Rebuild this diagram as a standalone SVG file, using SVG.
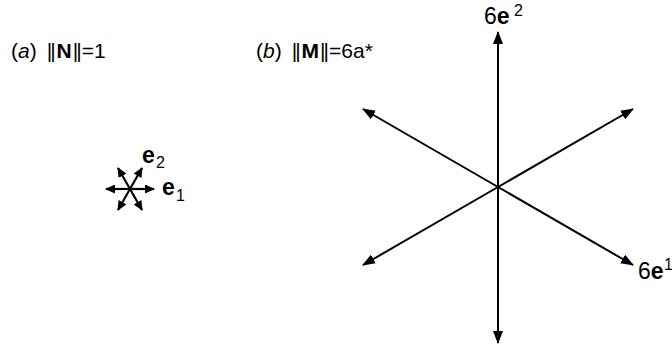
<svg xmlns="http://www.w3.org/2000/svg" width="672" height="351" viewBox="0 0 672 351">
<style>
text{font-family:"Liberation Sans",Arial,sans-serif;fill:#000}
.t{font-size:21px}
.l{font-size:23px}
.s{font-size:16px}
.ax{stroke:#000;stroke-width:2;fill:none}
.axs{stroke:#000;stroke-width:2.2;fill:none}
</style>
<defs>
<marker id="ah" markerWidth="14" markerHeight="10" refX="12" refY="5" orient="auto" markerUnits="userSpaceOnUse">
<path d="M0,0 L13,5 L0,10 Z" fill="#000"/>
</marker>
<marker id="ahs" markerWidth="10" markerHeight="9" refX="9" refY="4.5" orient="auto" markerUnits="userSpaceOnUse">
<path d="M0,0 L10,4.5 L0,9 Z" fill="#000"/>
</marker>
</defs>
<g id="title-a"><text class="t" x="11" y="58">(<tspan font-style="italic">a</tspan>)<tspan dx="10" letter-spacing="-2">||</tspan><tspan dx="3" font-weight="bold">N</tspan><tspan dx="1" letter-spacing="-2">||</tspan><tspan dx="2">=1</tspan></text></g>
<g id="title-b"><text class="t" x="256" y="58">(<tspan font-style="italic">b</tspan>)<tspan dx="10" letter-spacing="-2">||</tspan><tspan dx="3" font-weight="bold">M</tspan><tspan dx="1" letter-spacing="-2">||</tspan><tspan dx="2">=6a*</tspan></text></g>
<g id="connectors">
<g id="small-star">
<line class="axs" x1="130" y1="189" x2="106" y2="189" marker-end="url(#ahs)"/>
<line class="axs" x1="130" y1="189" x2="154" y2="189" marker-end="url(#ahs)"/>
<line class="axs" x1="130" y1="189" x2="118" y2="168" marker-end="url(#ahs)"/>
<line class="axs" x1="130" y1="189" x2="142" y2="168" marker-end="url(#ahs)"/>
<line class="axs" x1="130" y1="189" x2="118" y2="210" marker-end="url(#ahs)"/>
<line class="axs" x1="130" y1="189" x2="142" y2="210" marker-end="url(#ahs)"/>
</g>
<g id="big-star">
<line class="ax" x1="498" y1="187" x2="498" y2="32" marker-end="url(#ah)"/>
<line class="ax" x1="498" y1="187" x2="498" y2="343" marker-end="url(#ah)"/>
<line class="ax" x1="498" y1="187" x2="363" y2="109" marker-end="url(#ah)"/>
<line class="ax" x1="498" y1="187" x2="633" y2="109" marker-end="url(#ah)"/>
<line class="ax" x1="498" y1="187" x2="363" y2="265" marker-end="url(#ah)"/>
<line class="ax" x1="498" y1="187" x2="633" y2="265" marker-end="url(#ah)"/>
</g>
</g>
<g id="label-e2"><text class="l" x="142" y="163" font-weight="bold">e</text><text class="s" x="156" y="168">2</text></g>
<g id="label-e1"><text class="l" x="162" y="195" font-weight="bold">e</text><text class="s" x="176" y="201">1</text></g>
<g id="label-6e2"><text class="l" x="484" y="24">6<tspan font-weight="bold">e</tspan></text><text class="s" x="514" y="16">2</text></g>
<g id="label-6e1"><text class="l" x="638" y="279">6<tspan font-weight="bold">e</tspan></text><text class="s" x="664" y="270">1</text></g>
</svg>
